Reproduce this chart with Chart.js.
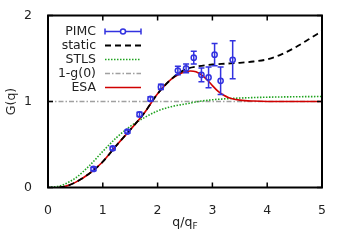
<!DOCTYPE html>
<html>
<head>
<meta charset="utf-8">
<script src="https://cdn.jsdelivr.net/npm/chart.js@4.4.0/dist/chart.umd.min.js"></script>
<style>
html, body { margin: 0; padding: 0; background: #fff; }
</style>
</head>
<body>
<canvas id="gq" width="345" height="246"></canvas>
<script>
// PIMC data with error bars
const pimcQ = [0.83, 1.18, 1.45, 1.67, 1.87, 2.06, 2.37, 2.52, 2.66, 2.80, 2.93, 3.04, 3.15, 3.37];
const pimcG = [0.216, 0.455, 0.65, 0.85, 1.03, 1.17, 1.36, 1.385, 1.51, 1.31, 1.28, 1.545, 1.24, 1.485];
const pimcErr = [0.02, 0.02, 0.02, 0.025, 0.025, 0.03, 0.05, 0.05, 0.075, 0.08, 0.12, 0.13, 0.16, 0.22];

// static
const staticQ = [0.2, 0.3, 0.5, 0.75, 1.0, 1.25, 1.5, 1.75, 2.0, 2.25, 2.5, 2.75, 3.0, 3.25, 3.5, 3.75, 4.0, 4.25, 4.5, 4.75, 5.0];
const staticG = [0, 0.01, 0.06, 0.16, 0.3, 0.49, 0.67, 0.86, 1.09, 1.26, 1.37, 1.41, 1.43, 1.44, 1.45, 1.465, 1.49, 1.545, 1.625, 1.72, 1.82];

// STLS
const stlsQ = [0, 0.25, 0.5, 0.75, 1.0, 1.25, 1.5, 1.75, 2.0, 2.25, 2.5, 2.75, 3.0, 3.5, 4.0, 4.5, 5.0];
const stlsG = [0, 0.025, 0.11, 0.25, 0.42, 0.58, 0.71, 0.81, 0.89, 0.94, 0.97, 1.0, 1.02, 1.04, 1.05, 1.055, 1.058];

// 1-g(0)
const gzeroQ = [0, 5];
const gzeroG = [1.0, 1.0];

// ESA
const esaQ = [0.2, 0.3, 0.5, 0.75, 1.0, 1.25, 1.5, 1.75, 2.0, 2.25, 2.4, 2.5, 2.6, 2.7, 2.8, 2.9, 3.0, 3.1, 3.2, 3.3, 3.4, 3.5, 3.75, 4.0, 4.5, 5.0];
const esaG = [0, 0.01, 0.06, 0.16, 0.3, 0.49, 0.67, 0.86, 1.09, 1.26, 1.32, 1.345, 1.355, 1.345, 1.31, 1.255, 1.185, 1.12, 1.075, 1.045, 1.027, 1.016, 1.005, 1.0, 1.0, 1.0];

const xTicks = [0, 1, 2, 3, 4, 5];
const yTicks = [0, 1, 2];

const FONT = 'DejaVu Sans';
const blue = '#3232e0';

function pts(xs, ys) {
    return xs.map((x, i) => ({x: x, y: ys[i]}));
}

function lineSet(label, xs, ys, color, dash, width, order) {
    return {
        label: label,
        data: pts(xs, ys),
        showLine: true,
        borderColor: color,
        borderWidth: width,
        borderDash: dash,
        pointRadius: 0,
        cubicInterpolationMode: 'monotone',
        fill: false,
        order: order
    };
}

const errorBars = {
    id: 'errorBars',
    afterDatasetsDraw(chart) {
        const ctx = chart.ctx;
        const xs = chart.scales.x, ys = chart.scales.y;
        ctx.save();
        ctx.strokeStyle = blue;
        ctx.lineWidth = 1.5;
        pimcQ.forEach((q, i) => {
            const px = xs.getPixelForValue(q);
            const lo = ys.getPixelForValue(pimcG[i] - pimcErr[i]);
            const hi = ys.getPixelForValue(pimcG[i] + pimcErr[i]);
            ctx.beginPath();
            ctx.moveTo(px, lo); ctx.lineTo(px, hi);
            ctx.moveTo(px - 3, lo); ctx.lineTo(px + 3, lo);
            ctx.moveTo(px - 3, hi); ctx.lineTo(px + 3, hi);
            ctx.stroke();
        });
        ctx.restore();
    }
};

// box around plot with inward ticks, gnuplot style
const frame = {
    id: 'frame',
    afterDatasetsDraw(chart) {
        const ctx = chart.ctx;
        const a = chart.chartArea;
        const xs = chart.scales.x, ys = chart.scales.y;
        ctx.save();
        ctx.strokeStyle = '#000';
        ctx.lineWidth = 1.5;
        ctx.beginPath();
        xTicks.forEach(t => {
            const px = xs.getPixelForValue(t);
            ctx.moveTo(px, a.bottom); ctx.lineTo(px, a.bottom - 5);
            ctx.moveTo(px, a.top); ctx.lineTo(px, a.top + 5);
        });
        yTicks.forEach(t => {
            const py = ys.getPixelForValue(t);
            ctx.moveTo(a.left, py); ctx.lineTo(a.left + 5, py);
            ctx.moveTo(a.right, py); ctx.lineTo(a.right - 5, py);
        });
        ctx.stroke();
        ctx.lineWidth = 2;
        ctx.strokeRect(a.left, a.top, a.right - a.left, a.bottom - a.top);
        ctx.restore();
    }
};

const keyAndTitles = {
    id: 'keyAndTitles',
    afterDraw(chart) {
        const ctx = chart.ctx;
        const a = chart.chartArea;
        ctx.save();
        ctx.fillStyle = '#222';
        ctx.font = '12.5px "' + FONT + '"';
        ctx.textBaseline = 'middle';

        // axis titles
        ctx.textAlign = 'left';
        const main = 'q/q';
        const w1 = ctx.measureText(main).width;
        ctx.font = '9px "' + FONT + '"';
        const w2 = ctx.measureText('F').width;
        const cx = (a.left + a.right) / 2 - (w1 + w2) / 2;
        ctx.font = '12.5px "' + FONT + '"';
        ctx.fillText(main, cx, 223);
        ctx.font = '9px "' + FONT + '"';
        ctx.fillText('F', cx + w1, 227);

        ctx.font = '12.5px "' + FONT + '"';
        ctx.save();
        ctx.translate(12, (a.top + a.bottom) / 2);
        ctx.rotate(-Math.PI / 2);
        ctx.textAlign = 'center';
        ctx.fillText('G(q)', 0, 0);
        ctx.restore();

        // key
        const tx = a.left + 48, s0 = a.left + 57, s1 = a.left + 93;
        chart.data.datasets.forEach((ds, i) => {
            const y = a.top + 16 + i * 14;
            ctx.textAlign = 'right';
            ctx.fillStyle = '#222';
            ctx.fillText(ds.label, tx, y);
            ctx.save();
            if (ds.label === 'PIMC') {
                ctx.strokeStyle = blue;
                ctx.lineWidth = 1.5;
                ctx.beginPath();
                ctx.moveTo(s0, y); ctx.lineTo(s1, y);
                ctx.moveTo(s0, y - 3); ctx.lineTo(s0, y + 3);
                ctx.moveTo(s1, y - 3); ctx.lineTo(s1, y + 3);
                ctx.stroke();
                ctx.beginPath();
                ctx.arc((s0 + s1) / 2, y, 2.5, 0, Math.PI * 2);
                ctx.fillStyle = '#fff';
                ctx.fill();
                ctx.stroke();
            } else {
                ctx.strokeStyle = ds.borderColor;
                ctx.lineWidth = ds.borderWidth;
                ctx.setLineDash(ds.borderDash || []);
                ctx.beginPath();
                ctx.moveTo(s0, y); ctx.lineTo(s1, y);
                ctx.stroke();
            }
            ctx.restore();
        });
        ctx.restore();
    }
};

new Chart(document.getElementById('gq'), {
    type: 'scatter',
    data: {
        datasets: [
            {
                label: 'PIMC',
                data: pts(pimcQ, pimcG),
                showLine: false,
                pointRadius: 2.6,
                pointBorderWidth: 1.5,
                pointBorderColor: blue,
                pointBackgroundColor: 'rgba(255,255,255,0)',
                borderColor: blue,
                order: 0
            },
            lineSet('static', staticQ, staticG, '#000', [6, 4], 1.8, 1),
            lineSet('STLS', stlsQ, stlsG, '#1fa31f', [1.5, 1.5], 1.6, 3),
            lineSet('1-g(0)', gzeroQ, gzeroG, '#a0a0a0', [5, 2, 1.5, 2], 1.5, 4),
            lineSet('ESA', esaQ, esaG, '#d00000', [], 1.6, 2)
        ]
    },
    options: {
        responsive: false,
        animation: false,
        layout: { padding: { left: 0, top: 14, right: 23, bottom: 0 } },
        plugins: {
            legend: { display: false },
            tooltip: { enabled: false }
        },
        scales: {
            x: {
                type: 'linear',
                min: 0,
                max: 5,
                afterFit(scale) { scale.height = 58.5; },
                afterBuildTicks(scale) { scale.ticks = xTicks.map(v => ({value: v})); },
                grid: { display: false },
                border: { display: false },
                ticks: { padding: 8, color: '#222', font: { family: FONT, size: 12.5 } }
            },
            y: {
                type: 'linear',
                min: 0,
                max: 2,
                afterFit(scale) { scale.width = 48; },
                afterBuildTicks(scale) { scale.ticks = yTicks.map(v => ({value: v})); },
                grid: { display: false },
                border: { display: false },
                ticks: { padding: 8, color: '#222', font: { family: FONT, size: 12.5 } }
            }
        }
    },
    plugins: [errorBars, frame, keyAndTitles]
});
</script>
</body>
</html>
